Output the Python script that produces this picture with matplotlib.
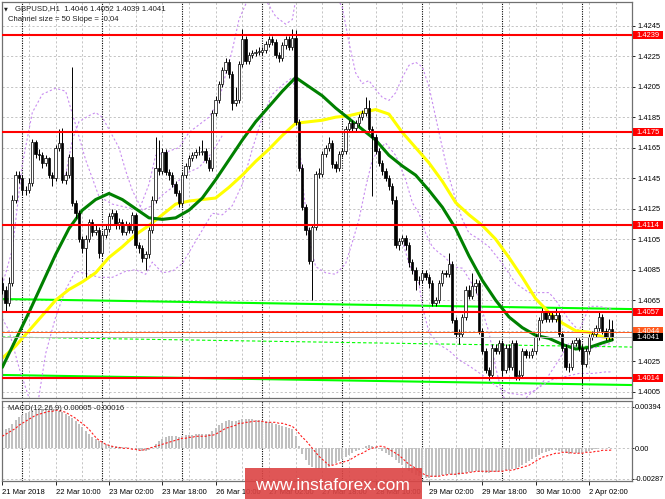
import matplotlib
matplotlib.use('Agg')
import matplotlib.pyplot as plt
import matplotlib.transforms as mtransforms
from matplotlib.patches import Rectangle
import numpy as np

plt.rcParams['font.family'] = ['Liberation Sans', 'DejaVu Sans']

# ---------------- data ----------------
# GBPUSD H1, prices as pips above 1.4000, bar 0 = 21 Mar 18:00
first_open_pips = 76
close_pips = [72, 63, 76, 131, 147, 145, 137, 137, 142, 169,
              161, 160, 155, 158, 147, 145, 165, 168, 144, 147,
              159, 129, 122, 105, 99, 105, 116, 110, 111, 96,
              108, 112, 120, 122, 114, 116, 110, 114, 111, 121,
              101, 99, 93, 95, 111, 131, 152, 150, 162, 149,
              147, 141, 135, 129, 147, 153, 158, 160, 162, 162,
              163, 157, 152, 188, 196, 207, 216, 221, 213, 194,
              196, 220, 236, 222, 226, 227, 228, 228, 229, 233,
              236, 234, 226, 224, 232, 236, 231, 237, 182, 152,
              126, 111, 91, 113, 148, 148, 161, 165, 168, 154,
              152, 161, 163, 177, 181, 178, 181, 185, 188, 191,
              177, 172, 163, 155, 150, 145, 140, 131, 101, 104,
              106, 101, 90, 85, 78, 78, 83, 80, 76, 63,
              65, 76, 83, 82, 89, 52, 43, 43, 54, 72,
              68, 74, 76, 45, 32, 19, 16, 34, 32, 37,
              19, 34, 21, 37, 15, 16, 32, 29, 29, 32,
              41, 52, 57, 53, 55, 53, 55, 43, 34, 21,
              21, 37, 39, 34, 23, 32, 41, 43, 47, 54,
              45, 41, 46, 41]
high_pips = [80, 74, 80, 134, 150, 150, 147, 140, 145, 171,
             170, 164, 162, 160, 159, 149, 167, 177, 178, 150,
             161, 218, 131, 124, 107, 108, 118, 118, 114, 113,
             110, 115, 122, 125, 124, 119, 118, 117, 116, 123,
             122, 103, 101, 97, 113, 133, 172, 170, 165, 164,
             151, 149, 143, 137, 149, 155, 160, 162, 164, 166,
             170, 165, 159, 190, 199, 209, 218, 224, 223, 215,
             205, 222, 243, 238, 228, 229, 230, 231, 231, 235,
             238, 238, 236, 228, 234, 238, 238, 243, 242, 184,
             154, 128, 113, 115, 150, 152, 163, 167, 172, 170,
             156, 163, 165, 179, 183, 183, 183, 187, 190, 198,
             196, 179, 174, 165, 157, 152, 147, 142, 133, 106,
             108, 108, 103, 92, 87, 81, 85, 85, 82, 78,
             67, 78, 85, 85, 96, 91, 54, 46, 56, 74,
             75, 83, 79, 78, 47, 34, 21, 36, 36, 39,
             39, 36, 36, 39, 39, 19, 34, 33, 32, 34,
             43, 54, 60, 58, 57, 57, 60, 57, 45, 36,
             24, 39, 41, 40, 36, 34, 43, 45, 49, 57,
             56, 47, 53, 52]
low_pips = [69, 57, 61, 74, 129, 142, 134, 134, 135, 140,
            158, 157, 152, 153, 145, 140, 143, 163, 142, 141,
            145, 127, 119, 103, 96, 80, 103, 107, 108, 93,
            94, 106, 110, 118, 112, 112, 108, 108, 109, 109,
            99, 96, 90, 85, 93, 109, 129, 147, 148, 147,
            144, 139, 133, 126, 127, 145, 151, 156, 158, 160,
            160, 155, 150, 150, 186, 194, 205, 214, 211, 190,
            192, 194, 218, 220, 220, 224, 225, 226, 226, 227,
            231, 232, 224, 221, 222, 230, 229, 229, 180, 150,
            124, 108, 89, 65, 111, 145, 146, 159, 163, 152,
            149, 150, 159, 161, 175, 176, 176, 179, 183, 186,
            175, 133, 161, 153, 147, 143, 137, 128, 99, 98,
            102, 98, 87, 82, 72, 75, 76, 78, 73, 61,
            61, 63, 74, 80, 80, 50, 40, 36, 41, 52,
            66, 66, 70, 43, 30, 17, 13, 14, 30, 30,
            15, 17, 19, 19, 13, 13, 14, 27, 27, 27,
            30, 39, 50, 51, 51, 51, 51, 41, 32, 19,
            18, 19, 35, 32, 11, 21, 30, 39, 41, 45,
            43, 39, 39, 39]

# moving averages read every 4 bars
ma_bars = list(range(0, 181, 4)) + [183]
green_ma_pips = [21, 39, 57, 76, 95, 112, 124, 131, 135, 131, 125, 119, 118, 119, 124, 132,
                 144, 157, 170, 182, 192, 202, 211, 205, 199, 191, 184, 177, 170, 160, 153, 147,
                 137, 126, 112, 94, 78, 65, 54, 47, 42, 40, 36, 33, 34, 37, 39]
yellow_ma_pips = [27, 35, 45, 55, 65, 72, 77, 83, 93, 100, 108, 114, 121, 128, 130, 131,
                  132, 139, 147, 156, 164, 173, 181, 182, 183, 185, 186, 188, 190, 187, 175, 165,
                  155, 143, 129, 121, 114, 105, 93, 80, 66, 57, 50, 45, 44, 41, 40]

# envelope bands (dotted violet)
fu_bars = [0, 3, 6, 9, 12, 16, 19, 22, 25, 29, 33, 37, 41, 44, 46, 49, 53, 56, 59, 62,
           65, 67, 69, 71, 73, 76, 79, 82, 85, 87, 88, 90, 95, 100, 102, 104, 106, 108, 110, 112,
           114, 116, 118, 120, 122, 124, 126, 128, 130, 132, 134, 136, 138, 140, 143, 146, 150, 154,
           158, 161, 164, 166, 170, 173, 175, 176, 179, 183]
fu_pips = [75, 98, 154, 188, 200, 204, 202, 180, 157, 133, 128, 126, 124, 141, 160, 162, 165, 175, 180, 185,
           196, 213, 229, 249, 259, 272, 262, 251, 246, 249, 262, 288, 301, 265, 257, 234, 214, 207, 209, 203,
           198, 196, 201, 211, 219, 221, 218, 205, 185, 165, 146, 131, 118, 109, 105, 100, 89, 76,
           70, 70, 70, 65, 52, 45, 55, 61, 61, 59]
fl_bars = [0, 2, 5, 8, 10, 11, 13, 16, 19, 22, 26, 29, 33, 37, 40, 43, 45, 48, 51, 54,
           57, 60, 63, 66, 69, 72, 75, 78, 81, 84, 87, 88, 90, 92, 94, 97, 100, 103, 105, 107,
           109, 111, 113, 115, 118, 121, 123, 125, 127, 129, 131, 133, 135, 138, 142, 146, 148, 150,
           152, 155, 158, 161, 165, 169, 173, 177, 181, 183]
fl_pips = [53, 45, 21, 1, -7, 2, 30, 54, 72, 84, 82, 80, 80, 84, 85, 82, 90, 83, 84, 89,
           100, 111, 122, 121, 127, 141, 164, 185, 200, 206, 211, 200, 144, 105, 87, 83, 82, 89, 103, 118,
           139, 157, 164, 168, 160, 144, 129, 122, 109, 100, 96, 93, 87, 86, 72, 44, 21, 3,
           -4, -4, 3, 8, 13, 15, 17, 17, 18, 18]
su_bars = [19, 21, 23, 26, 28, 30, 32, 35, 37, 39, 42, 45, 48, 51, 55, 59, 63, 66]
su_pips = [147, 170, 182, 186, 188, 185, 177, 165, 150, 137, 124, 127, 134, 139, 148, 152, 162, 173]
sl_bars = [120, 122, 125, 126, 128, 131, 134, 137, 140, 144, 148, 152, 156, 160, 164, 167, 170, 174, 178, 183]
sl_pips = [104, 89, 76, 61, 44, 36, 32, 26, 22, 16, 9, 4, 3, 6, 16, 26, 37, 32, 34, 37]

# levels
red_levels = [1.4239, 1.4175, 1.4114, 1.4057, 1.4014]
channel_upper = [1.40658, 1.40592]
channel_mid = [1.40409, 1.40343]
channel_lower = [1.40160, 1.40094]
ask_level = 1.4044
bid_level = 1.4041

# MACD (units of 1e-5)
macd_main = [170, 180, 189, 227, 265, 294, 313, 331, 341, 350,
             360, 360, 369, 369, 369, 369, 360, 350, 341, 322,
             303, 284, 256, 227, 199, 161, 133, 104, 85, 66,
             47, 38, 28, 19, 19, 9, 9, 9, 0, 0,
             -9, -19, -28, -28, -19, 9, 38, 66, 85, 104,
             114, 114, 114, 104, 114, 123, 123, 123, 133, 133,
             133, 133, 133, 161, 189, 218, 237, 256, 265, 256,
             256, 265, 275, 275, 275, 275, 265, 265, 256, 256,
             246, 237, 227, 218, 208, 199, 189, 180, 114, 19,
             -57, -114, -161, -180, -189, -199, -199, -189, -180, -161,
             -142, -123, -104, -85, -66, -47, -28, -19, 0, 19,
             28, 19, 9, -9, -28, -47, -66, -85, -114, -142,
             -161, -189, -218, -237, -256, -265, -275, -284, -284, -275,
             -275, -265, -256, -256, -246, -256, -256, -256, -246, -237,
             -227, -227, -218, -227, -227, -237, -237, -227, -227, -218,
             -218, -208, -208, -199, -199, -180, -161, -142, -123, -104,
             -85, -66, -47, -38, -28, -19, -19, -28, -38, -47,
             -57, -47, -47, -47, -47, -38, -28, -19, -9, 0,
             0, 0, 9, 5]
macd_signal = [114, 133, 152, 170, 189, 218, 237, 256, 275, 294,
               313, 322, 331, 341, 350, 350, 360, 360, 350, 341,
               322, 303, 284, 256, 237, 208, 180, 142, 104, 76,
               57, 38, 28, 19, 9, 9, 0, 0, 0, -9,
               -9, -19, -19, -9, 0, 9, 19, 28, 38, 47,
               57, 66, 76, 85, 95, 95, 104, 104, 114, 114,
               114, 114, 123, 123, 133, 152, 170, 189, 199, 208,
               218, 237, 237, 246, 246, 256, 256, 256, 256, 246,
               246, 246, 246, 237, 237, 227, 218, 208, 180, 142,
               104, 76, 38, 0, -38, -76, -104, -133, -161, -161,
               -152, -142, -133, -123, -114, -95, -76, -57, -47, -28,
               -9, 0, 9, 19, 19, 9, -9, -28, -47, -66,
               -95, -123, -152, -170, -189, -218, -237, -256, -265, -265,
               -265, -265, -256, -256, -246, -246, -246, -237, -237, -237,
               -227, -227, -218, -218, -218, -218, -218, -218, -218, -218,
               -218, -208, -208, -208, -199, -189, -180, -170, -161, -142,
               -123, -104, -85, -76, -66, -57, -47, -47, -38, -38,
               -38, -47, -47, -47, -47, -38, -38, -38, -28, -28,
               -19, -19, -19, -16]

time_labels = ['21 Mar 2018', '22 Mar 10:00', '23 Mar 02:00', '23 Mar 18:00', '26 Mar 10:00',
               '27 Mar 02:00', '27 Mar 18:00', '28 Mar 10:00', '29 Mar 02:00', '29 Mar 18:00',
               '30 Mar 10:00', '2 Apr 02:00']
time_label_bars = [0, 16, 32, 48, 64, 80, 96, 112, 128, 144, 160, 176]
day_start_bars = [6, 30, 54, 78, 102, 126, 150, 174]

# ---------------- figure ----------------
W, H = 665, 499
fig = plt.figure(figsize=(W / 100, H / 100), dpi=100)
fig.patch.set_facecolor('white')

ax = fig.add_axes([2 / W, (H - 398) / H, 630 / W, 396 / H])
axm = fig.add_axes([2 / W, (H - 481) / H, 630 / W, 80 / H])

xmin, xmax = -0.09, 188.9
ymin, ymax = 1.40009, 1.42605
px_per_unit = 396 / (ymax - ymin)

def p(v):
    return 1.4 + np.asarray(v, dtype=float) / 10000.0

c = p(close_pips)
o = np.concatenate([[p(first_open_pips)], c[:-1]])
hi = p(high_pips)
lo = p(low_pips)
bars = np.arange(len(c))

grid_kw = dict(color='#c4c4c4', lw=0.7, linestyle=(0, (2.2, 2.2)), zorder=0)
sep_kw = dict(color='black', lw=0.8, linestyle=(0, (1, 1.2)), zorder=1)

for a in (ax, axm):
    a.set_xlim(xmin, xmax)
    a.set_facecolor('white')
    for b in range(0, 189, 8):
        a.axvline(b, **grid_kw)
    for b in day_start_bars:
        a.axvline(b, **sep_kw)
    for s in a.spines.values():
        s.set_color('#707070')
        s.set_linewidth(0.9)

# ----- main panel -----
ax.set_ylim(ymin, ymax)
grid_levels = np.round(np.arange(1.4005, 1.4246, 0.002), 4)
for g in grid_levels:
    ax.axhline(g, **grid_kw)

# channel
ax.plot([xmin, xmax], channel_upper, color='#00ff00', lw=1.5, zorder=2)
ax.plot([xmin, xmax], channel_lower, color='#00ff00', lw=1.5, zorder=2)
ax.plot([xmin, xmax], channel_mid, color='#00ff00', lw=0.8, linestyle=(0, (3, 2)), zorder=2)

# bands
band_kw = dict(color='#c88cf0', lw=0.8, linestyle=(0, (2, 2)), zorder=2)
ax.plot(fu_bars, p(fu_pips), **band_kw)
ax.plot(fl_bars, p(fl_pips), **band_kw)
ax.plot(su_bars, p(su_pips), **band_kw)
ax.plot(sl_bars, p(sl_pips), **band_kw)

# moving averages
ax.plot(ma_bars, p(yellow_ma_pips), color='#ffff00', lw=2.2, zorder=2.5, solid_capstyle='round')
ax.plot(ma_bars, p(green_ma_pips), color='#008000', lw=2.2, zorder=2.6, solid_capstyle='round')

# candles
ax.vlines(bars, lo, hi, color='black', lw=0.7, zorder=3)
up = c >= o
body = np.maximum(np.abs(c - o), 0.00002)
bottom = np.minimum(o, c)
ax.bar(bars[up], body[up], bottom=bottom[up], width=0.7, color='white',
       edgecolor='black', linewidth=0.5, zorder=4)
ax.bar(bars[~up], body[~up], bottom=bottom[~up], width=0.7, color='black',
       edgecolor='black', linewidth=0.5, zorder=4)

# horizontal levels
for lv in red_levels:
    ax.axhline(lv, color='#ff0000', lw=1.5, zorder=5)
ax.axhline(ask_level, color='#ff5a1e', lw=0.7, zorder=5)
ax.axhline(bid_level, color='#b8b8b8', lw=0.7, zorder=5)

# right axis
ax.set_xticks([])
ax.yaxis.tick_right()
ytick_levels = [g for g in grid_levels if abs(g - 1.4045) > 1e-6]
ax.set_yticks(ytick_levels)
ax.set_yticklabels(['%.4f' % g for g in ytick_levels])
ax.tick_params(axis='y', right=True, length=2.5, width=0.6, labelsize=5.4, pad=1.5, colors='black')

trans = mtransforms.blended_transform_factory(ax.transAxes, ax.transData)
box_h = 8.0 / px_per_unit

def price_box(level, face, text_color='white', shift=0.0):
    ax.add_patch(Rectangle((1.0016, level - box_h / 2 + shift), 0.047, box_h, transform=trans,
                           facecolor=face, edgecolor='none', clip_on=False, zorder=6))
    ax.text(1.0016 + 0.0235, level + shift - 0.3 / px_per_unit, '%.4f' % level, transform=trans,
            ha='center', va='center', fontsize=5.4, color=text_color, clip_on=False, zorder=7)

for lv in red_levels:
    price_box(lv, '#ff0000')
# ask label sits just above the bid label and is mostly hidden by it
price_box(ask_level, '#ff5a1e', shift=1.5 / px_per_unit)
price_box(bid_level, '#000000')

# header texts
fig.text(4 / W, 1 - 8.5 / H, '\u25bc', fontsize=3.6, color='#202020', va='center', family=['DejaVu Sans'])
fig.text(15 / W, 1 - 8.5 / H, 'GBPUSD,H1  1.4046 1.4052 1.4039 1.4041', fontsize=5.6,
         color='#202020', va='center')
fig.text(8 / W, 1 - 19.5 / H, 'Channel size = 50 Slope = -0.04', fontsize=5.6,
         color='#202020', va='center')

# ----- MACD panel -----
mmin, mmax = -0.0031, 0.00448
axm.set_ylim(mmin, mmax)
for g in (0.00394, 0.0, -0.00287):
    axm.axhline(g, **grid_kw)
hist = np.array(macd_main) / 1e5
sig = np.array(macd_signal) / 1e5
axm.bar(bars, hist, width=0.6, color='#c0c0c0', zorder=2)
axm.plot(bars, sig, color='#ff1e1e', lw=0.8, linestyle=(0, (2, 1.6)), zorder=3)

axm.yaxis.tick_right()
axm.set_yticks([0.00394, 0.0, -0.00287])
axm.set_yticklabels(['0.00394', '0.00', '-0.00287'])
axm.tick_params(axis='y', right=True, length=1.5, width=0.6, labelsize=5.3, pad=0.6, colors='black')

axm.set_xticks(time_label_bars)
axm.set_xticklabels(time_labels)
axm.tick_params(axis='x', length=3, width=0.6, labelsize=5.5, pad=2.5, colors='black')
for t in axm.get_xticklabels():
    t.set_horizontalalignment('left')

axm.text(6 / 630, 1 - 7 / 80, 'MACD(12,26,9) 0.00005 -0.00016', transform=axm.transAxes,
         fontsize=5.6, color='#202020', va='center', ha='left')

# ----- watermark -----
fig.patches.append(Rectangle((245 / W, -2 / H), 177 / W, 33 / H, transform=fig.transFigure,
                             facecolor='#dc4444', alpha=0.9, edgecolor='none', zorder=10))
fig.text(332 / W, 9.5 / H, 'www.instaforex.com', fontsize=12.5, color='white',
         ha='center', va='baseline', zorder=11)

fig.savefig('out.png', dpi=100, facecolor='white')
